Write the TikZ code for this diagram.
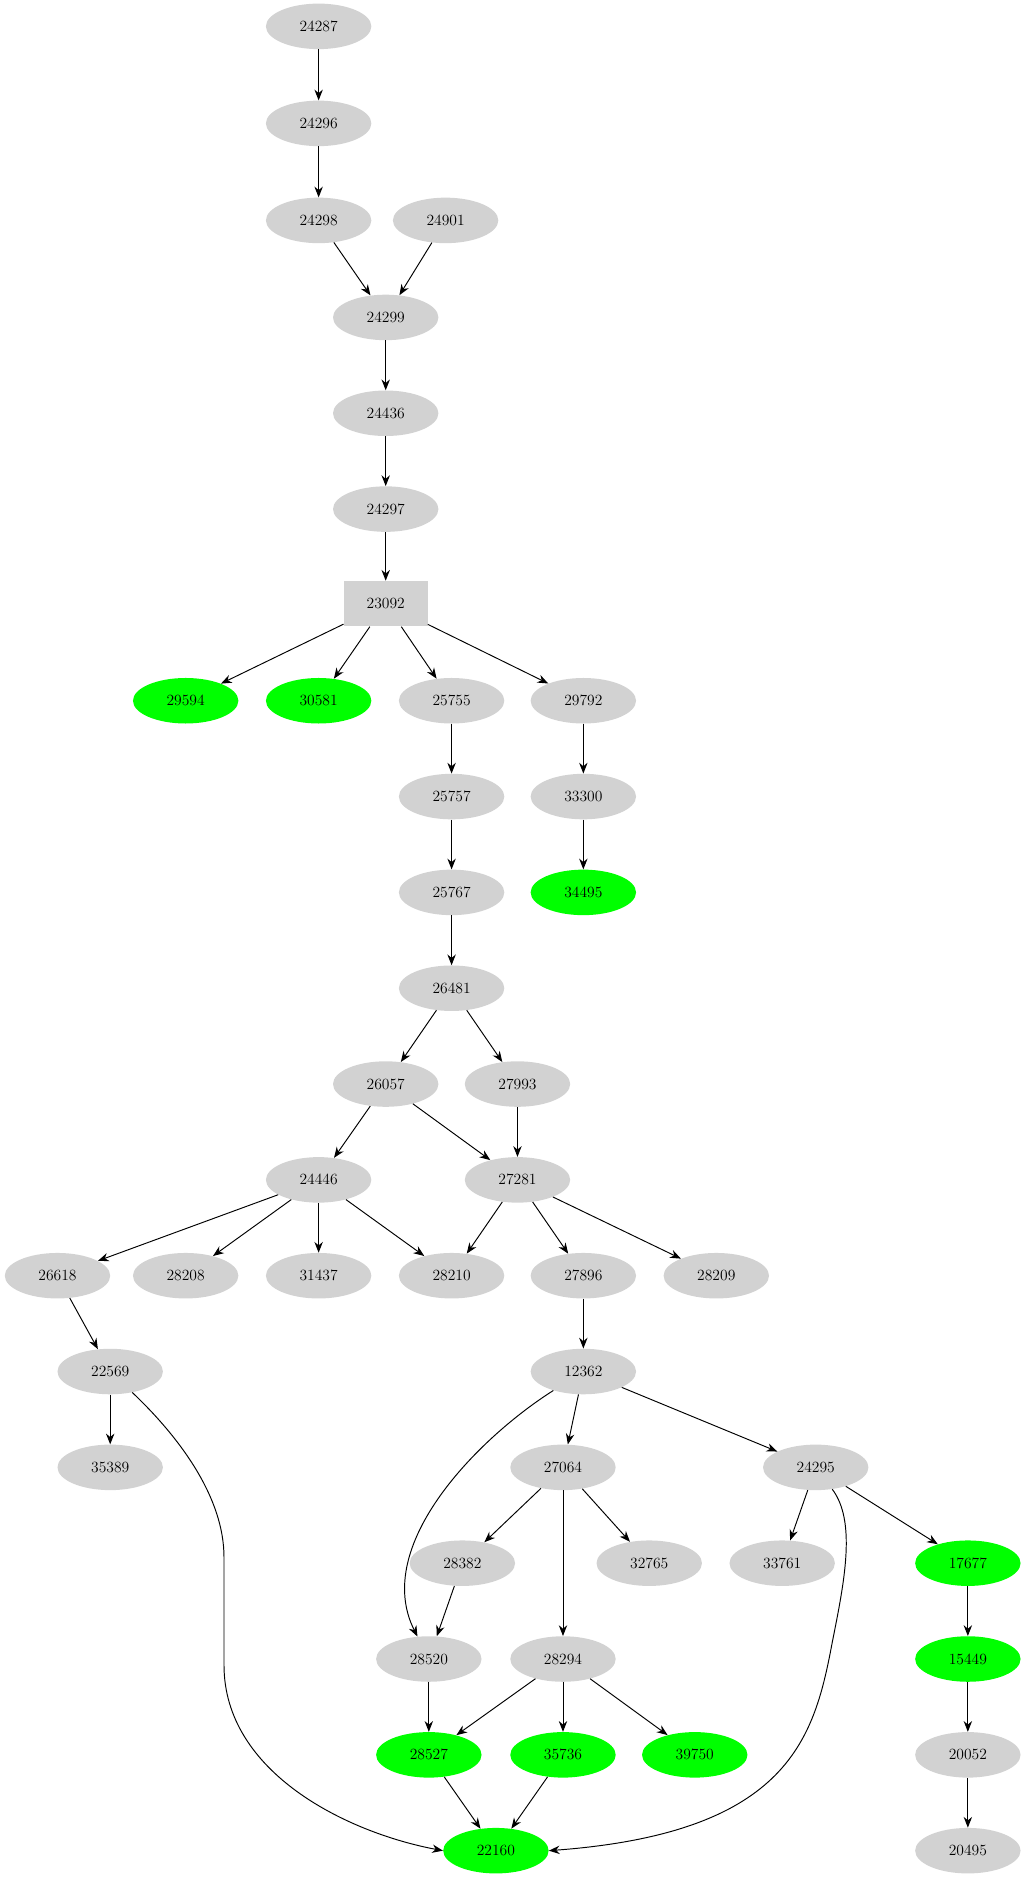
\documentclass[tikz,border=0pt]{standalone}
\usetikzlibrary{arrows.meta,shapes.geometric}
\begin{document}
\begin{tikzpicture}[x=1pt,y=-1pt,
  nd/.style={ellipse,fill=gray!35,minimum width=88pt,minimum height=38pt,inner sep=0pt,font=\fontsize{13}{15}\selectfont},
  gn/.style={nd,fill=green},
  bx/.style={rectangle,fill=gray!35,minimum width=70pt,minimum height=38pt,font=\fontsize{13}{15}\selectfont},
  ar/.style={-{Stealth[length=9pt,width=7pt]},thick}]
\useasboundingbox (0,0) rectangle (854,1572);
\node[nd] (a24287) at (266,22) {24287};
\node[nd] (a24296) at (266,103) {24296};
\node[nd] (a24298) at (266,184) {24298};
\node[nd] (a24901) at (372,184) {24901};
\node[nd] (a24299) at (322,265) {24299};
\node[nd] (a24436) at (322,345) {24436};
\node[nd] (a24297) at (322,425) {24297};
\node[bx] (a23092) at (322,504) {23092};
\node[gn] (a29594) at (155,585) {29594};
\node[gn] (a30581) at (266,585) {30581};
\node[nd] (a25755) at (377,585) {25755};
\node[nd] (a29792) at (487,585) {29792};
\node[nd] (a25757) at (377,665) {25757};
\node[nd] (a33300) at (487,665) {33300};
\node[nd] (a25767) at (377,745) {25767};
\node[gn] (a34495) at (487,745) {34495};
\node[nd] (a26481) at (377,825) {26481};
\node[nd] (a26057) at (322,905) {26057};
\node[nd] (a27993) at (432,905) {27993};
\node[nd] (a24446) at (266,985) {24446};
\node[nd] (a27281) at (432,985) {27281};
\node[nd] (a26618) at (48,1065) {26618};
\node[nd] (a28208) at (155,1065) {28208};
\node[nd] (a31437) at (266,1065) {31437};
\node[nd] (a28210) at (377,1065) {28210};
\node[nd] (a27896) at (487,1065) {27896};
\node[nd] (a28209) at (598,1065) {28209};
\node[nd] (a22569) at (92,1145) {22569};
\node[nd] (a12362) at (487,1145) {12362};
\node[nd] (a35389) at (92,1225) {35389};
\node[nd] (a27064) at (470,1225) {27064};
\node[nd] (a24295) at (681,1225) {24295};
\node[nd] (a28382) at (386,1305) {28382};
\node[nd] (a32765) at (542,1305) {32765};
\node[nd] (a33761) at (653,1305) {33761};
\node[gn] (a17677) at (808,1305) {17677};
\node[nd] (a28520) at (358,1385) {28520};
\node[nd] (a28294) at (470,1385) {28294};
\node[gn] (a15449) at (808,1385) {15449};
\node[gn] (a28527) at (358,1465) {28527};
\node[gn] (a35736) at (470,1465) {35736};
\node[gn] (a39750) at (580,1465) {39750};
\node[nd] (a20052) at (808,1465) {20052};
\node[gn] (a22160) at (414,1545) {22160};
\node[nd] (a20495) at (808,1545) {20495};
\foreach \s/\t in {24287/24296,24296/24298,24298/24299,24901/24299,24299/24436,24436/24297,24297/23092,
 23092/29594,23092/30581,23092/25755,23092/29792,25755/25757,29792/33300,25757/25767,33300/34495,25767/26481,
 26481/26057,26481/27993,26057/24446,26057/27281,27993/27281,24446/26618,24446/28208,24446/31437,24446/28210,
 27281/28210,27281/27896,27281/28209,27896/12362,26618/22569,22569/35389,12362/27064,12362/24295,
 27064/28382,27064/32765,27064/28294,28382/28520,24295/33761,24295/17677,17677/15449,15449/20052,20052/20495,
 28520/28527,28294/28527,28294/35736,28294/39750,28527/22160,35736/22160}
  \draw[ar] (a\s) -- (a\t);
\draw[ar] (a22569) .. controls (150,1200) and (187,1250) .. (187,1300) -- (187,1390) .. controls (187,1480) and (290,1530) .. (a22160.west);
\draw[ar] (a12362) .. controls (400,1200) and (310,1290) .. (a28520);
\draw[ar] (a24295) .. controls (715,1270) and (705,1320) .. (695,1370) .. controls (680,1450) and (660,1530) .. (a22160.east);
\end{tikzpicture}
\end{document}
